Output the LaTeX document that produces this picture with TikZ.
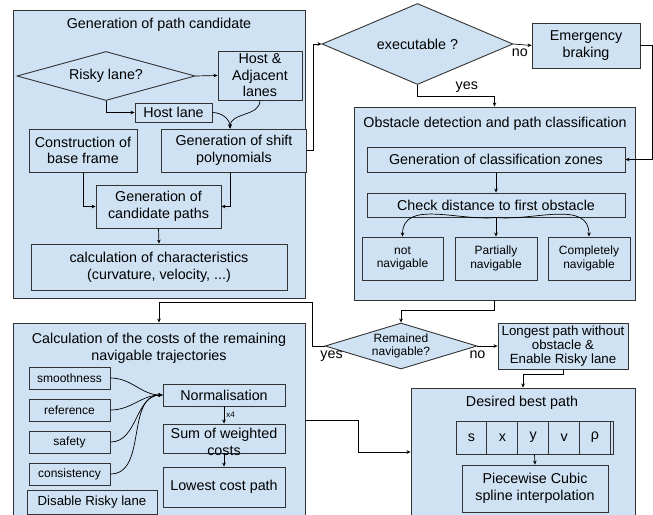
\documentclass[tikz,border=0pt]{standalone}
\usepackage{fontspec}
\setmainfont{Liberation Sans}
\usetikzlibrary{shapes.geometric,arrows.meta,positioning}
\definecolor{boxblue}{HTML}{CFE2F3}
\definecolor{edgegray}{HTML}{333333}
\begin{document}
\begin{tikzpicture}[x=1pt,y=1pt,
    txt/.style={font=\fontsize{14.3}{16.6}\selectfont, align=center},
    small/.style={font=\fontsize{12}{13.4}\selectfont, align=center},
    frame/.style={draw=edgegray, fill=boxblue, line width=0.9pt, inner sep=0pt},
    box/.style={draw=edgegray, fill=boxblue, line width=0.9pt, inner sep=0pt, txt},
    decision/.style={diamond, draw=edgegray, fill=boxblue, line width=0.9pt, inner sep=0pt, txt},
    link/.style={-{Stealth[length=4pt,width=3.6pt]}, line width=0.7pt, black},
    tag/.style={txt, inner sep=0pt}]
  \useasboundingbox (0,0) rectangle (653,-514);
  % path candidates
  \node[frame, minimum width=292pt, minimum height=288pt] (genframe) at (159,-154) {};
  \node[tag] (gentitle) at (159,-25) {Generation of path candidate};
  \node[decision, aspect=3.6, minimum width=178pt, minimum height=49pt] (risky) at (106,-76) {Risky lane?};
  \node[box, minimum width=84pt, minimum height=49pt] (hostadj) at (260,-75.5) {Host \&\\Adjacent\\lanes};
  \node[box, minimum width=77pt, minimum height=19pt] (hostlane) at (173.5,-112.5) {Host lane};
  \node[box, minimum width=145pt, minimum height=43pt] (shiftpoly) at (234,-150.5) {Generation of shift\\polynomials};
  \node[box, minimum width=108pt, minimum height=43pt] (baseframe) at (83,-150.5) {Construction of\\base frame};
  \node[box, minimum width=125pt, minimum height=43pt] (candpaths) at (158.5,-206.5) {Generation of\\candidate paths};
  \node[box, minimum width=256pt, minimum height=46pt] (charact) at (159,-267) {calculation of characteristics\\(curvature, velocity, ...)};
  % executable check
  \node[decision, aspect=2.4, minimum width=191pt, minimum height=81pt] (exec) at (417.5,-44) {executable ?};
  \node[box, minimum width=108pt, minimum height=45pt] (emergency) at (586,-45.5) {Emergency\\braking};
  % obstacles
  \node[frame, minimum width=281pt, minimum height=193pt] (obsframe) at (494.5,-203.5) {};
  \node[tag] (obstitle) at (495,-124) {Obstacle detection and path classification};
  \node[box, minimum width=258pt, minimum height=25pt] (zones) at (496,-159.5) {Generation of classification zones};
  \node[box, minimum width=258pt, minimum height=24pt] (checkdist) at (496,-205) {Check distance to first obstacle};
  \node[box, small, minimum width=81pt, minimum height=43pt] (notnav) at (402.5,-258.5) {not\\navigable};
  \node[box, small, minimum width=82pt, minimum height=43pt] (partnav) at (496,-258.5) {Partially\\navigable};
  \node[box, small, minimum width=82pt, minimum height=43pt] (compnav) at (589,-258.5) {Completely\\navigable};
  \node[decision, small, aspect=3.3, minimum width=152pt, minimum height=46pt] (remained) at (401,-346) {Remained\\navigable?};
  \node[box, font=\fontsize{13.3}{14.3}\selectfont, minimum width=130pt, minimum height=46pt] (longest) at (563,-346) {Longest path without\\obstacle \&\\Enable Risky lane};
  % costs
  \node[frame, minimum width=292pt, minimum height=194pt] (costframe) at (159,-420) {};
  \node[tag] (costtitle) at (159,-348.5) {Calculation of the costs of the remaining\\navigable trajectories};
  \node[box, small, minimum width=81pt, minimum height=22pt] (smooth) at (69.5,-378) {smoothness};
  \node[box, small, minimum width=81pt, minimum height=22pt] (reference) at (69.5,-410) {reference};
  \node[box, small, minimum width=81pt, minimum height=22pt] (safety) at (69.5,-442) {safety};
  \node[box, small, minimum width=81pt, minimum height=22pt] (consist) at (69.5,-474) {consistency};
  \node[box, font=\fontsize{13.2}{15}\selectfont, minimum width=130pt, minimum height=24pt] (disable) at (92,-502) {Disable Risky lane};
  \node[box, minimum width=122pt, minimum height=22pt] (normal) at (224,-395) {Normalisation};
  \node[box, minimum width=122pt, minimum height=29pt] (sumcost) at (224,-438.5) {};
  \node[tag] (sumtext) at (224,-442) {Sum of weighted\\costs};
  \node[box, minimum width=122pt, minimum height=40pt] (lowest) at (224,-487) {Lowest cost path};
  % best path
  \node[frame, minimum width=224pt, minimum height=128pt] (bestframe) at (523,-452) {};
  \node[tag] (besttitle) at (522,-403) {Desired best path};
  \node[box, minimum width=157pt, minimum height=33pt] (cellrow) at (534.5,-437.5) {};
  \node[box, minimum width=30.9pt, minimum height=33pt] (cs) at (471.45,-437.5) {s};
  \node[box, minimum width=30.9pt, minimum height=33pt] (cx) at (502.35,-437.5) {x};
  \node[box, minimum width=30.9pt, minimum height=33pt] (cy) at (533.25,-437.5) {y};
  \node[box, minimum width=30.9pt, minimum height=33pt] (cv) at (564.15,-437.5) {v};
  \node[box, minimum width=30.9pt, minimum height=33pt] (crho) at (595.05,-437.5) {ρ};
  \node[box, minimum width=146pt, minimum height=47pt] (spline) at (535,-488.5) {Piecewise Cubic\\spline interpolation};
  % connections
  \draw[link] (risky.east) -- (hostadj.west);
  \draw[link] (risky.south) |- (hostlane.west);
  \draw[link] (hostlane.east) to[out=0,in=90] ([xshift=-4pt]shiftpoly.north);
  \draw[link] (hostadj.south) to[out=-90,in=90] ([xshift=-4pt]shiftpoly.north);
  \draw[link] (baseframe.south) |- (candpaths.west);
  \draw[link] ([xshift=-4pt]shiftpoly.south) |- (candpaths.east);
  \draw[link] (candpaths.south) -- (charact.north);
  \draw[link] (shiftpoly.east) -- ++(6.5,0) |- (exec.west);
  \draw[link] (exec.east) -- node[tag, pos=0.35, below=4pt] (execno) {no} (emergency.west);
  \draw[link] (emergency.east) -- ++(12,0) |- (zones.east);
  \draw[link] (exec.south) -- ++(0,-11) -| node[tag, pos=0.32, above=3pt] (execyes) {yes} (obsframe.north);
  \draw[link] (zones.south) -- (checkdist.north);
  \draw[link] (checkdist.south) to[out=186,in=90] (notnav.north);
  \draw[link] (checkdist.south) -- (partnav.north);
  \draw[link] (checkdist.south) to[out=-6,in=90] (compnav.north);
  \draw[link] (obsframe.south) -- ++(0,-10) -| (remained.north);
  \draw[link] (remained.east) -- node[tag, pos=0, below=4pt] (remno) {no} (longest.west);
  \draw[link] (longest.south) -- ++(0,-5) -| (bestframe.north);
  \draw[link] (remained.west) -- node[tag, pos=0, below=4pt, xshift=7pt] (remyes) {yes} ++(-12,0) |- ([yshift=20pt]costframe.north) -- (costframe.north);
  \draw[link] (smooth.east) to[out=0,in=180] (normal.west);
  \draw[link] (reference.east) to[out=0,in=180] (normal.west);
  \draw[link] (safety.east) to[out=0,in=180] (normal.west);
  \draw[link] (consist.east) to[out=0,in=180] (normal.west);
  \draw[link] (normal.south) -- node[tag, right=2pt, font=\fontsize{8}{9}\selectfont] (times) {x4} (sumcost.north);
  \draw[link] (sumcost.south) -- (lowest.north);
  \draw[link] (costframe.east) -- ++(53,0) |- (bestframe.west);
  \draw[link] (cellrow.south) -- (spline.north);
\end{tikzpicture}
\end{document}
